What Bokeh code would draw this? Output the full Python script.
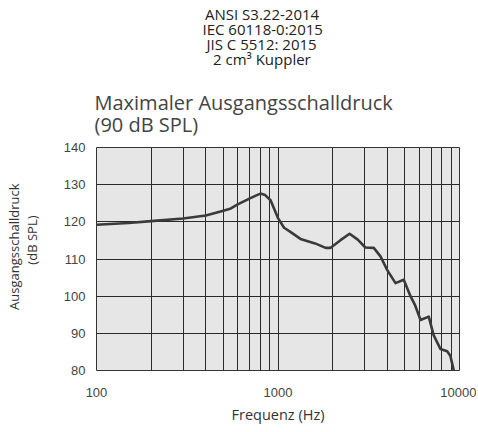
from bokeh.plotting import figure
from bokeh.models import (FixedTicker, NumeralTickFormatter, Title, ColumnDataSource,
                          LinearAxis)
from bokeh.embed import file_html
from bokeh.resources import INLINE

# ---- data ----
freq_hz = [100, 150, 200, 300, 400, 500, 550, 600, 700, 750, 800, 850, 910, 1000,
           1080, 1170, 1330, 1600, 1830, 1950, 2200, 2480, 2750, 3030, 3370,
           3670, 4000, 4440, 4930, 5370, 5700, 6100, 6770, 7200, 7850, 8550,
           8900, 9300]
spl_db = [119.2, 119.7, 120.2, 120.9, 121.7, 123.0, 123.6, 124.7, 126.3, 127.0,
          127.6, 127.2, 125.8, 121.0, 118.4, 117.3, 115.4, 114.2, 113.0, 113.0,
          115.0, 116.8, 115.2, 113.1, 113.0, 110.7, 107.0, 103.5, 104.4, 100.0,
          97.5, 93.6, 94.5, 89.5, 85.8, 85.2, 84.0, 80.0]
x_tick_values = [100, 1000, 10000]
x_grid_values = [100, 200, 300, 400, 500, 600, 700, 800, 900,
                 1000, 2000, 3000, 4000, 5000, 6000, 7000, 8000, 9000, 10000]
y_tick_values = [80, 90, 100, 110, 120, 130, 140]
header_lines = ["ANSI S3.22-2014", "IEC 60118-0:2015", "JIS C 5512: 2015", "2 cm³ Kuppler"]
title_text = "Maximaler Ausgangsschalldruck\n(90 dB SPL)"
y_label_lines = ["Ausgangsschalldruck", "(dB SPL)"]
x_label = "Frequenz (Hz)"

FRAME_W, FRAME_H = 363, 223
ML, MR, MT, MB = 96, 17, 147, 60

p = figure(width=ML + FRAME_W + MR, height=MT + FRAME_H + MB,
           x_axis_type="log", x_range=(100, 10000), y_range=(80, 140),
           output_backend="svg", toolbar_location=None,
           min_border_left=ML, min_border_right=MR,
           min_border_top=MT, min_border_bottom=MB)
p.background_fill_color = "#e6e6e6"
p.border_fill_color = "white"
p.outline_line_color = "#333333"
p.outline_line_width = 1

p.xaxis.ticker = FixedTicker(ticks=x_tick_values, minor_ticks=[])
p.xaxis.formatter = NumeralTickFormatter(format="0")
p.yaxis.ticker = FixedTicker(ticks=y_tick_values, minor_ticks=[])
for ax in (p.xaxis, p.yaxis):
    ax.axis_line_color = None
    ax.major_tick_line_color = None
    ax.minor_tick_line_color = None
    ax.major_label_text_font = "Liberation Sans"
    ax.major_label_text_font_size = "13px"
    ax.major_label_text_color = "#444444"
p.xaxis.major_label_standoff = 11
p.yaxis.major_label_standoff = 5
p.xaxis.axis_label = x_label
p.xaxis.axis_label_text_font = "Open Sans"
p.xaxis.axis_label_text_font_size = "14.5px"
p.xaxis.axis_label_text_font_style = "normal"
p.xaxis.axis_label_text_color = "#333333"
p.xaxis.axis_label_standoff = 5

p.xgrid.ticker = FixedTicker(ticks=x_grid_values, minor_ticks=[])
p.ygrid.ticker = FixedTicker(ticks=y_tick_values, minor_ticks=[])
for g in (p.xgrid, p.ygrid):
    g.grid_line_color = "#2a2a2a"
    g.grid_line_width = 1

src = ColumnDataSource(dict(f=freq_hz, db=spl_db))
p.line("f", "db", source=src, line_color="#3a3a3a", line_width=2.6,
       line_join="round", line_cap="round")


def spacer_axis(size, at):
    """A blank axis (one white tick on white, empty label) used only as a gap."""
    return LinearAxis(ticker=FixedTicker(ticks=[at], minor_ticks=[]),
                      major_tick_out=size, major_tick_in=0, minor_tick_out=0,
                      major_tick_line_color="white",
                      major_label_overrides={at: ""},
                      major_label_text_font_size="0px",
                      major_label_standoff=0, axis_line_color=None)


# ---- titles above (stacked outward from the frame) ----
p.add_layout(Title(text=title_text, align="left", offset=-2, standoff=19,
                   text_font="Open Sans", text_font_size="20px",
                   text_font_style="normal", text_color="#444444",
                   text_line_height=0.80), "above")
p.add_layout(spacer_axis(12, 150), "above")
header_offsets = [108.5, 106, 110, 116.5]
for t, off in reversed(list(zip(header_lines, header_offsets))):
    p.add_layout(Title(text=t, align="left", offset=off, standoff=-6.6,
                       text_font="Open Sans", text_font_size="15px",
                       text_font_style="normal", text_color="#222222"), "above")

# ---- y label on the left ----
p.add_layout(spacer_axis(20, 135), "left")
p.add_layout(Title(text=y_label_lines[1], align="right", offset=68, standoff=-2,
                   vertical_align="middle",
                   text_font="Open Sans", text_font_size="13px",
                   text_font_style="normal", text_color="#333333"), "left")
p.add_layout(Title(text=y_label_lines[0], align="right", offset=36, standoff=-2,
                   vertical_align="middle",
                   text_font="Open Sans", text_font_size="13px",
                   text_font_style="normal", text_color="#333333"), "left")

open("out.html", "w").write(file_html(p, INLINE))
